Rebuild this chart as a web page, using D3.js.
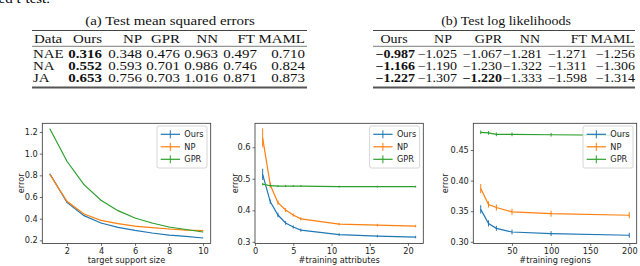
<!DOCTYPE html>
<html lang="en">
<head>
<meta charset="UTF-8">
<title>errors</title>
<script src="https://d3js.org/d3.v7.min.js"></script>
<style>
body{margin:0;background:#fff;}
svg text{font-family:"DejaVu Sans",sans-serif;}
.tbl text{font-family:"Liberation Serif",serif;}
</style>
</head>
<body>
<div id="container"></div>
<script>
// ---- tables ----
const tableCols = ["Data","Ours","NP","GPR","NN","FT","MAML"];
const dataNames = ["NAE","NA","JA"];
const mseVals = [[0.316,0.348,0.476,0.963,0.497,0.710],
                 [0.552,0.593,0.701,0.986,0.746,0.824],
                 [0.653,0.756,0.703,1.016,0.871,0.873]];
const mseBold = [[1,0,0,0,0,0],[1,0,0,0,0,0],[1,0,0,0,0,0]];
const llVals = [[-0.987,-1.025,-1.067,-1.281,-1.271,-1.256],
                [-1.166,-1.190,-1.230,-1.322,-1.311,-1.306],
                [-1.227,-1.307,-1.220,-1.333,-1.598,-1.314]];
const llBold = [[1,0,0,0,0,0],[1,0,0,0,0,0],[1,0,1,0,0,0]];

// ---- plot 1: target support size ----
const supportSize = [1,2,3,4,5,6,7,8,9,10];
const supportOurs = [0.812,0.550,0.428,0.360,0.320,0.292,0.268,0.249,0.237,0.222];
const supportNP   = [0.806,0.560,0.443,0.385,0.354,0.332,0.317,0.305,0.295,0.289];
const supportGPR  = [1.228,0.930,0.714,0.570,0.474,0.406,0.360,0.323,0.300,0.277];
const supportOursErr = [0.004,0.003,0.003,0.002,0.002,0.002,0.002,0.002,0.002,0.002];
const supportNPErr   = [0.004,0.003,0.003,0.002,0.002,0.002,0.002,0.002,0.002,0.002];
const supportGPRErr  = [0.003,0.002,0.002,0.002,0.002,0.002,0.002,0.002,0.002,0.002];

// ---- plot 2: training attributes ----
const attrs = [1,2,3,4,5,6,11,16,21];
const attrOurs = [0.514,0.427,0.385,0.360,0.347,0.337,0.323,0.318,0.315];
const attrNP   = [0.630,0.480,0.424,0.401,0.385,0.373,0.356,0.353,0.350];
const attrGPR  = [0.483,0.478,0.477,0.477,0.477,0.477,0.475,0.475,0.475];
const attrOursErr = [0.018,0.007,0.007,0.006,0.005,0.005,0.004,0.004,0.004];
const attrNPErr   = [0.030,0.008,0.007,0.006,0.005,0.005,0.004,0.004,0.004];
const attrGPRErr  = [0.004,0.003,0.003,0.003,0.003,0.003,0.003,0.003,0.003];

// ---- plot 3: training regions ----
const regions = [10,20,30,50,100,200];
const regOurs = [0.353,0.330,0.322,0.316,0.3134,0.3107];
const regNP   = [0.387,0.361,0.356,0.349,0.346,0.3434];
const regGPR  = [0.479,0.478,0.4756,0.4756,0.475,0.474];
const regOursErr = [0.0068,0.005,0.004,0.004,0.004,0.004];
const regNPErr   = [0.0074,0.005,0.005,0.005,0.005,0.005];
const regGPRErr  = [0.003,0.003,0.003,0.003,0.003,0.003];

const names = ["Ours","NP","GPR"];
const colors = ["#1f77b4","#ff7f0e","#2ca02c"];

const W = 640, H = 266;
const svg = d3.select("#container").append("svg")
    .attr("width", W).attr("height", H)
    .style("display","block");
svg.append("rect").attr("width",W).attr("height",H).attr("fill","#fff");

// table text is wider than tall in the source, hence the x-stretch
const tfs = "11.5px";

// caption fragment cut off at the top
svg.append("text")
    .attr("transform","translate(50,3) scale(1.3,1)")
    .attr("text-anchor","end")
    .style("font-family","'Liberation Serif',serif").style("font-size",tfs)
    .text("paired t-test.");

function put(g, sx, txt, x, y, anchor, bold) {
  g.append("text")
    .attr("transform", `translate(${x},${y}) scale(${sx},1)`)
    .attr("text-anchor", anchor)
    .style("font-size", tfs)
    .style("font-weight", bold ? "bold" : "normal")
    .attr("fill","#111")
    .text(txt);
}

function drawTable(opt) {
  const g = svg.append("g").attr("class","tbl");
  const sx = opt.sx;
  put(g, sx, opt.title, opt.titleX, 25, "middle", false);
  g.append("line").attr("x1",opt.x0).attr("x2",opt.x1).attr("y1",30.5).attr("y2",30.5)
    .attr("stroke","#444").attr("stroke-width",1.2);
  g.append("line").attr("x1",opt.x0).attr("x2",opt.x1).attr("y1",46.3).attr("y2",46.3)
    .attr("stroke","#444").attr("stroke-width",0.7);
  g.append("line").attr("x1",opt.x0).attr("x2",opt.x1).attr("y1",87.5).attr("y2",87.5)
    .attr("stroke","#555").attr("stroke-width",1.8);
  opt.headers.forEach((h,i) => put(g, sx, h, opt.headX[i], 42.5, opt.headAnchor[i], false));
  const rowY = [57.8, 70, 82];
  const fmt = d3.format(".3f");
  opt.vals.forEach((row,r) => {
    if (opt.rowNames) put(g, sx, opt.rowNames[r], opt.rowX, rowY[r], "start", false);
    row.forEach((v,c) => put(g, sx, fmt(v), opt.valX[c], rowY[r], "end", opt.bold[r][c]));
  });
}

drawTable({
  title: "(a) Test mean squared errors", titleX: 170, sx: 1.3,
  x0: 32, x1: 307,
  headers: tableCols,
  headX: [34, 102, 142, 180, 218, 255, 305],
  headAnchor: ["start","end","end","end","end","end","end"],
  rowNames: dataNames, rowX: 33,
  vals: mseVals, bold: mseBold,
  valX: [102, 142, 180, 218, 257, 305]
});
drawTable({
  title: "(b) Test log likelihoods", titleX: 506, sx: 1.217,
  x0: 373, x1: 635,
  headers: tableCols.slice(1),
  headX: [394, 452, 502, 540, 587, 634],
  headAnchor: ["middle","end","end","end","end","end"],
  rowNames: null,
  vals: llVals, bold: llBold,
  valX: [415, 457, 502, 542, 587, 635]
});

// ---- panels ----
const axTop = 123.3, axBottom = 243.4, fs = "8.2px";
function panel(opt) {
  const x = d3.scaleLinear().domain(opt.xd).range([opt.left, opt.right]);
  const y = d3.scaleLinear().domain(opt.yd).range([axBottom, axTop]);
  const g = svg.append("g");
  const xa = g.append("g").attr("transform",`translate(0,${axBottom})`)
    .call(d3.axisBottom(x).tickValues(opt.xt).tickSize(2.5).tickPadding(2).tickFormat(d3.format("d")));
  const ya = g.append("g").attr("transform",`translate(${opt.left},0)`)
    .call(d3.axisLeft(y).tickValues(opt.yt).tickSize(2.5).tickPadding(2).tickFormat(d3.format(opt.yf)));
  [xa,ya].forEach(a => {
    a.select(".domain").remove();
    a.selectAll("line").attr("stroke","#333").attr("stroke-width",0.7);
    a.selectAll("text").attr("fill","#222").style("font-size",fs)
      .style("font-family","'DejaVu Sans',sans-serif");
  });
  const line = d3.line().x(d => x(d[0])).y(d => y(d[1]));
  opt.series.forEach((s,k) => {
    const pts = opt.xs.map((xv,i) => [xv, s.v[i], s.e[i]]);
    g.append("path").datum(pts).attr("d", line)
      .attr("fill","none").attr("stroke",colors[k]).attr("stroke-width",1.2);
    g.selectAll(null).data(pts).enter().append("line")
      .attr("x1",d => x(d[0])).attr("x2",d => x(d[0]))
      .attr("y1",d => y(d[1]-d[2])).attr("y2",d => y(d[1]+d[2]))
      .attr("stroke",colors[k]).attr("stroke-width",1);
  });
  g.append("rect").attr("x",opt.left).attr("y",axTop)
    .attr("width",opt.right-opt.left).attr("height",axBottom-axTop)
    .attr("fill","none").attr("stroke","#333").attr("stroke-width",0.8);
  // legend
  const lw = 50, lx = opt.right - 3.7 - lw, ly = axTop + 2.7;
  const lg = g.append("g").attr("transform",`translate(${lx},${ly})`);
  lg.append("rect").attr("width",lw).attr("height",42).attr("rx",2)
    .attr("fill","#fff").attr("fill-opacity",0.8).attr("stroke","#ccc").attr("stroke-width",0.8);
  names.forEach((n,k) => {
    const yy = 8.3 + k*12.5;
    lg.append("line").attr("x1",3.7).attr("x2",23).attr("y1",yy).attr("y2",yy)
      .attr("stroke",colors[k]).attr("stroke-width",1.2);
    lg.append("line").attr("x1",13.3).attr("x2",13.3).attr("y1",yy-4).attr("y2",yy+4)
      .attr("stroke",colors[k]).attr("stroke-width",1);
    lg.append("text").attr("x",27.3).attr("y",yy).attr("dy","0.35em")
      .style("font-size",fs).attr("fill","#222").text(n);
  });
  g.append("text").attr("x",(opt.left+opt.right)/2).attr("y",263.3)
    .attr("text-anchor","middle").style("font-size",fs).attr("fill","#222").text(opt.xl);
  g.append("text").attr("transform",`translate(${opt.yx},${(axTop+axBottom)/2}) rotate(-90)`)
    .attr("text-anchor","middle").style("font-size",fs).attr("fill","#222").text("error");
}

panel({left:42.3, right:210.7, xd:[0.55,10.45], yd:[0.172,1.28],
  xt:[2,4,6,8,10], yt:[0.2,0.4,0.6,0.8,1.0,1.2], yf:".1f", yx:23.5,
  xl:"target support size", xs:supportSize,
  series:[{v:supportOurs,e:supportOursErr},{v:supportNP,e:supportNPErr},{v:supportGPR,e:supportGPRErr}]});
panel({left:255, right:423.3, xd:[0,22], yd:[0.295,0.676],
  xt:[0,5,10,15,20], yt:[0.3,0.4,0.5,0.6], yf:".1f", yx:237.5,
  xl:"#training attributes", xs:attrs,
  series:[{v:attrOurs,e:attrOursErr},{v:attrNP,e:attrNPErr},{v:attrGPR,e:attrGPRErr}]});
panel({left:473.3, right:636.7, xd:[0.5,209.5], yd:[0.2974,0.4937],
  xt:[50,100,150,200], yt:[0.30,0.35,0.40,0.45], yf:".2f", yx:447.5,
  xl:"#training regions", xs:regions,
  series:[{v:regOurs,e:regOursErr},{v:regNP,e:regNPErr},{v:regGPR,e:regGPRErr}]});
</script>
</body>
</html>
